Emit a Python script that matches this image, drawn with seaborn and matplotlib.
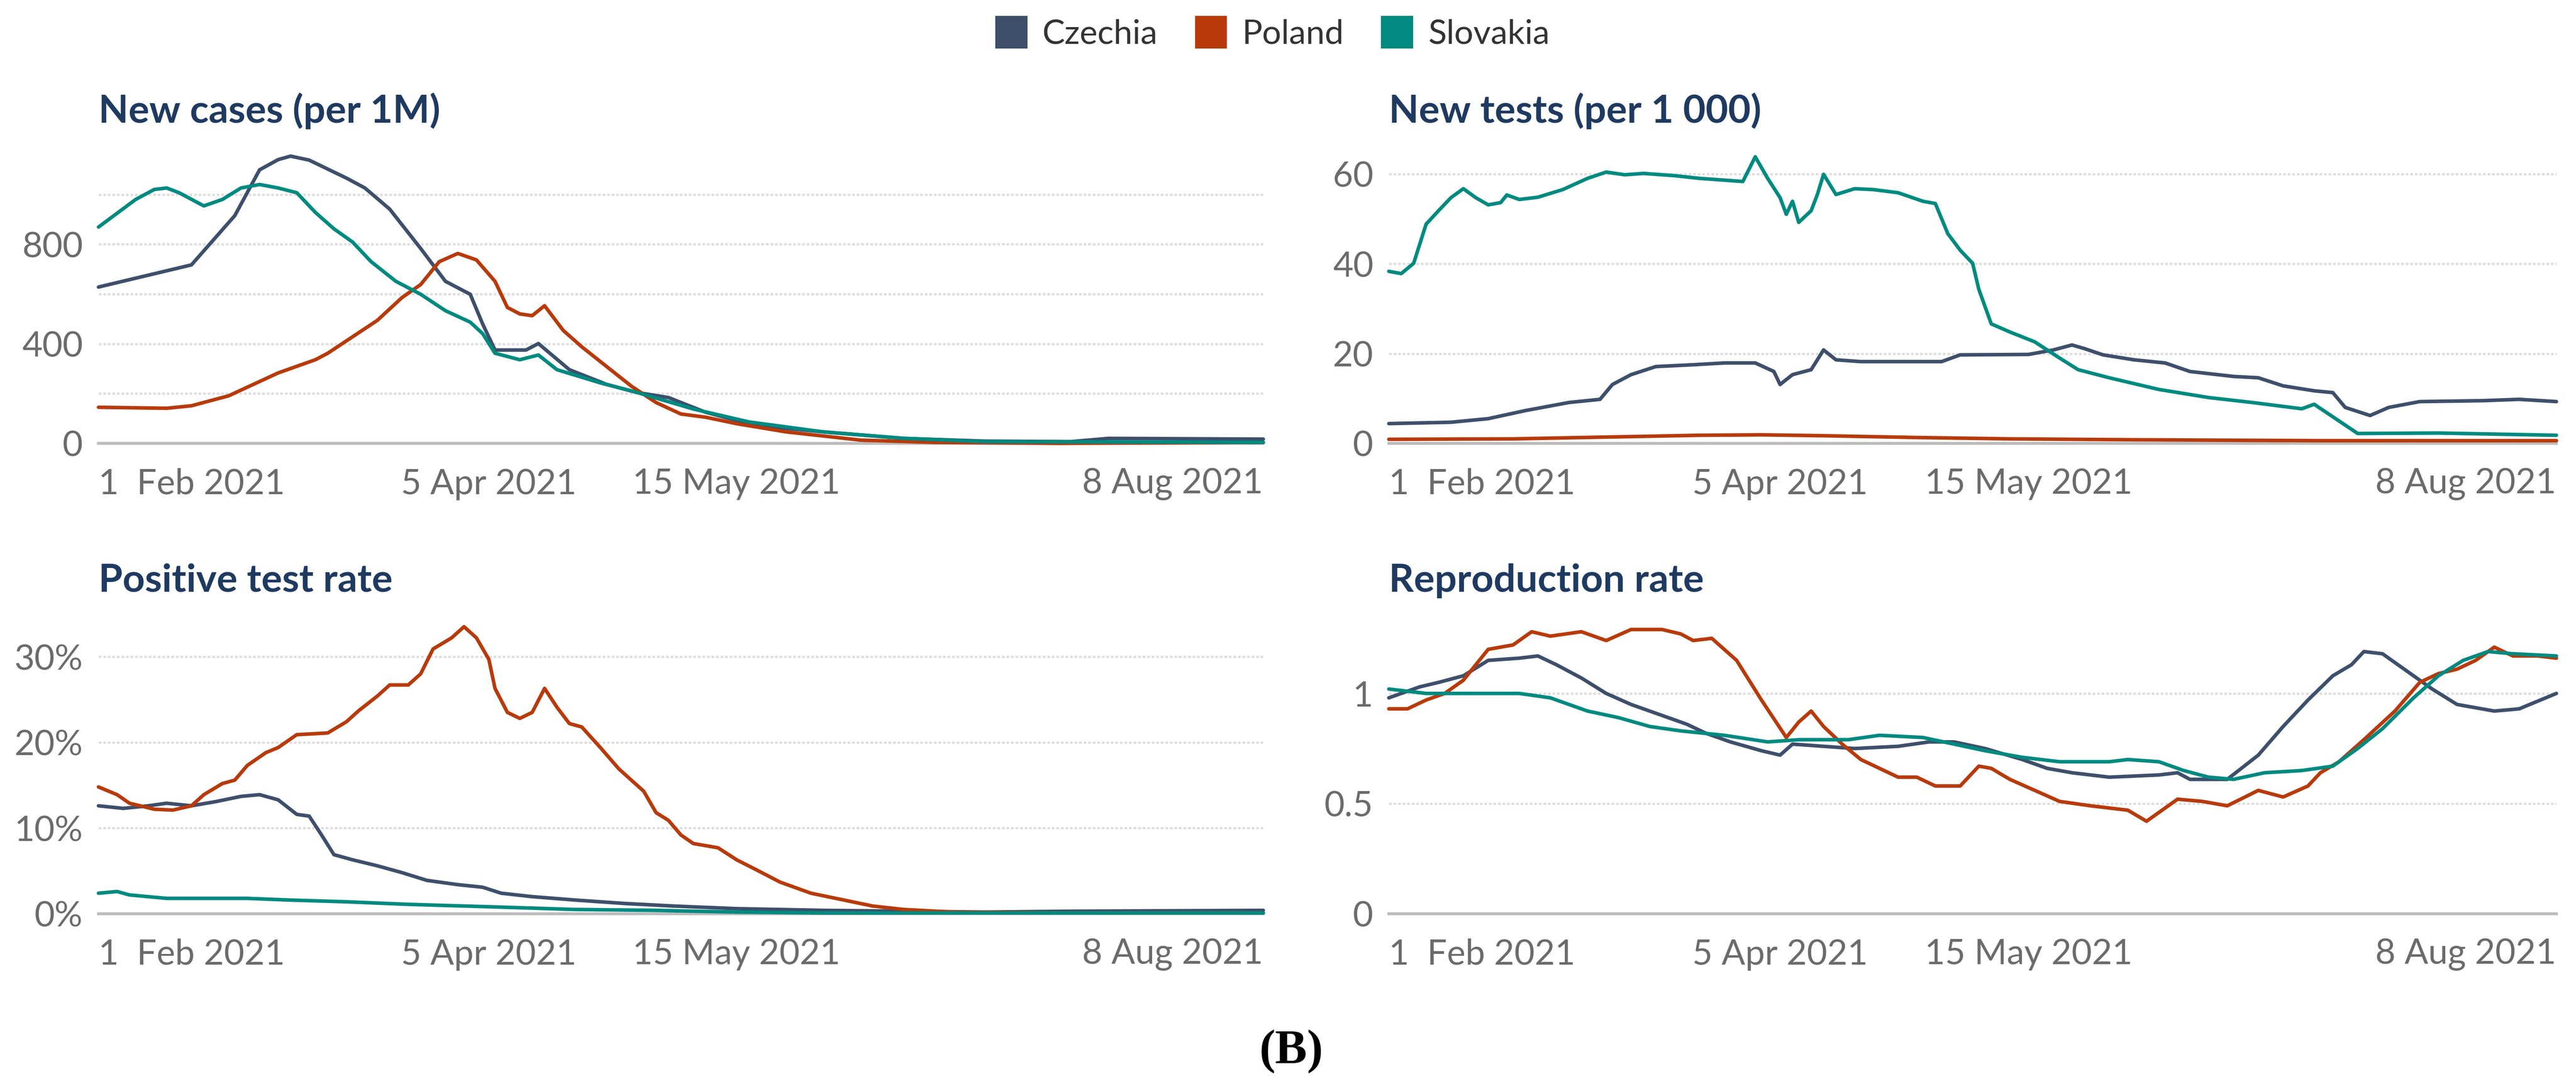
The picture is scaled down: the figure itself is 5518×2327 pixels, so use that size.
import numpy as np
import pandas as pd
import matplotlib
matplotlib.use("Agg")
import matplotlib.pyplot as plt
import matplotlib.dates as mdates
from matplotlib.patches import Patch
import seaborn as sns

# ---------------- data (days after 1 Feb 2021) ----------------
countries = ["Czechia", "Poland", "Slovakia"]
colors = {"Czechia": "#3d4f6b", "Poland": "#b83a0b", "Slovakia": "#008a80"}

cases_cz_days = [0, 15, 22, 26, 29, 31, 34, 40, 43, 47, 52, 56, 60, 62, 64, 69, 71, 76, 82, 87, 92, 98, 106, 117, 130, 143, 157, 163, 188]
cases_cz_vals = [628, 717, 915, 1099, 1140, 1154, 1138, 1066, 1026, 941, 783, 651, 599, 480, 375, 375, 401, 296, 237, 204, 184, 125, 72, 46, 20, 9, 7, 20, 17]
cases_pl_days = [0, 11, 15, 21, 25, 29, 35, 37, 41, 45, 49, 52, 55, 58, 61, 64, 66, 68, 70, 72, 75, 78, 82, 86, 90, 94, 98, 103, 111, 123, 135, 155, 188]
cases_pl_vals = [145, 141, 151, 191, 237, 283, 336, 362, 428, 494, 586, 638, 730, 763, 737, 651, 546, 520, 513, 553, 454, 388, 309, 230, 164, 118, 105, 79, 46, 13, 4, 0, 4]
cases_sk_days = [0, 6, 9, 11, 13, 17, 20, 23, 26, 29, 32, 35, 38, 41, 44, 48, 52, 56, 60, 62, 64, 68, 71, 74, 81, 87, 96, 105, 117, 130, 143, 188]
cases_sk_vals = [869, 980, 1020, 1026, 1007, 954, 980, 1026, 1040, 1026, 1007, 928, 862, 809, 730, 651, 599, 533, 487, 441, 362, 336, 355, 296, 243, 204, 138, 86, 46, 20, 7, 4]

tests_cz_days = [0, 10, 16, 22, 29, 34, 36, 39, 43, 49, 54, 59, 62, 63, 65, 68, 70, 72, 76, 89, 92, 103, 107, 110, 112, 115, 120, 125, 129, 136, 140, 144, 149, 152, 154, 158, 161, 166, 176, 182, 188]
tests_cz_vals = [4.4, 4.7, 5.5, 7.3, 9.1, 9.8, 13.1, 15.3, 17.1, 17.5, 17.9, 17.9, 16.0, 13.1, 15.3, 16.4, 20.8, 18.6, 18.2, 18.2, 19.7, 19.8, 20.8, 21.9, 21.1, 19.7, 18.6, 17.9, 16.0, 14.9, 14.6, 12.8, 11.7, 11.3, 8.0, 6.2, 8.0, 9.3, 9.5, 9.8, 9.3]
tests_pl_days = [0, 20, 35, 50, 60, 70, 85, 100, 120, 150, 188]
tests_pl_vals = [0.9, 1.0, 1.4, 1.8, 1.9, 1.7, 1.3, 1.0, 0.8, 0.6, 0.6]
tests_sk_days = [0, 2, 4, 6, 8, 10, 12, 14, 16, 18, 19, 21, 24, 28, 32, 35, 38, 41, 46, 50, 57, 59, 61, 63, 64, 65, 66, 68, 69, 70, 72, 75, 78, 82, 86, 88, 90, 92, 94, 95, 97, 100, 104, 108, 111, 116, 124, 132, 139, 147, 149, 156, 169, 188]
tests_sk_vals = [38.3, 37.8, 40.1, 48.8, 51.8, 54.7, 56.7, 54.7, 53.1, 53.6, 55.3, 54.3, 54.8, 56.5, 59.0, 60.4, 59.8, 60.1, 59.6, 59.0, 58.3, 63.8, 59.0, 54.7, 51.0, 53.9, 49.2, 51.8, 55.4, 59.9, 55.4, 56.7, 56.5, 55.8, 53.9, 53.4, 46.7, 43.0, 40.1, 34.3, 26.6, 24.8, 22.6, 19.0, 16.4, 14.6, 12.0, 10.2, 9.1, 7.7, 8.7, 2.2, 2.3, 1.8]

ptr_cz_days = [0, 4, 8, 11, 15, 19, 23, 26, 29, 32, 34, 36, 38, 41, 45, 49, 53, 58, 62, 65, 70, 77, 85, 93, 103, 117, 143, 157, 188]
ptr_cz_vals = [12.6, 12.3, 12.6, 12.9, 12.6, 13.1, 13.7, 13.9, 13.3, 11.6, 11.4, 9.2, 6.9, 6.3, 5.6, 4.8, 3.9, 3.4, 3.1, 2.4, 2.0, 1.6, 1.2, 0.9, 0.6, 0.4, 0.2, 0.3, 0.4]
ptr_pl_days = [0, 3, 5, 9, 12, 15, 17, 20, 22, 24, 27, 29, 32, 37, 40, 42, 45, 47, 50, 52, 54, 57, 59, 61, 63, 64, 66, 68, 70, 72, 74, 76, 78, 81, 84, 88, 90, 92, 94, 96, 100, 103, 106, 110, 115, 119, 125, 130, 138, 156, 188]
ptr_pl_vals = [14.8, 13.9, 12.9, 12.2, 12.1, 12.6, 13.9, 15.2, 15.6, 17.3, 18.8, 19.4, 20.9, 21.1, 22.4, 23.7, 25.4, 26.7, 26.7, 28.0, 30.9, 32.2, 33.5, 32.2, 29.7, 26.3, 23.5, 22.8, 23.5, 26.3, 24.1, 22.2, 21.8, 19.4, 16.9, 14.3, 11.8, 10.9, 9.2, 8.2, 7.7, 6.3, 5.2, 3.7, 2.4, 1.8, 0.9, 0.5, 0.2, 0.1, 0.1]
ptr_sk_days = [0, 3, 5, 11, 24, 31, 40, 50, 64, 77, 90, 103, 117, 188]
ptr_sk_vals = [2.4, 2.6, 2.2, 1.8, 1.8, 1.6, 1.4, 1.1, 0.8, 0.5, 0.4, 0.2, 0.1, 0.1]

r_cz_days = [0, 5, 8, 12, 16, 21, 24, 27, 31, 35, 39, 44, 48, 51, 55, 60, 63, 65, 70, 75, 82, 87, 91, 96, 102, 106, 110, 116, 124, 127, 129, 135, 140, 144, 148, 152, 155, 157, 160, 164, 168, 172, 178, 182, 188]
r_cz_vals = [0.98, 1.03, 1.05, 1.08, 1.15, 1.16, 1.17, 1.13, 1.07, 1.0, 0.95, 0.90, 0.86, 0.82, 0.78, 0.74, 0.72, 0.77, 0.76, 0.75, 0.76, 0.78, 0.78, 0.75, 0.70, 0.66, 0.64, 0.62, 0.63, 0.64, 0.61, 0.61, 0.72, 0.85, 0.97, 1.08, 1.13, 1.19, 1.18, 1.10, 1.02, 0.95, 0.92, 0.93, 1.0]
r_pl_days = [0, 3, 6, 9, 12, 14, 16, 20, 23, 26, 31, 35, 39, 44, 47, 49, 52, 56, 60, 64, 66, 68, 70, 73, 76, 82, 85, 88, 92, 95, 97, 100, 104, 108, 113, 119, 122, 127, 131, 135, 140, 144, 148, 150, 153, 157, 162, 166, 169, 172, 175, 178, 181, 185, 188]
r_pl_vals = [0.93, 0.93, 0.97, 1.0, 1.06, 1.13, 1.20, 1.22, 1.28, 1.26, 1.28, 1.24, 1.29, 1.29, 1.27, 1.24, 1.25, 1.15, 0.97, 0.80, 0.87, 0.92, 0.85, 0.77, 0.70, 0.62, 0.62, 0.58, 0.58, 0.67, 0.66, 0.61, 0.56, 0.51, 0.49, 0.47, 0.42, 0.52, 0.51, 0.49, 0.56, 0.53, 0.58, 0.64, 0.69, 0.79, 0.92, 1.05, 1.09, 1.11, 1.15, 1.21, 1.17, 1.17, 1.16]
r_sk_days = [0, 6, 21, 26, 32, 37, 42, 47, 54, 61, 66, 74, 79, 86, 91, 96, 102, 108, 116, 119, 124, 128, 132, 136, 141, 147, 152, 156, 160, 165, 169, 173, 177, 181, 188]
r_sk_vals = [1.02, 1.0, 1.0, 0.98, 0.92, 0.89, 0.85, 0.83, 0.81, 0.78, 0.79, 0.79, 0.81, 0.80, 0.77, 0.74, 0.71, 0.69, 0.69, 0.70, 0.69, 0.65, 0.62, 0.61, 0.64, 0.65, 0.67, 0.75, 0.84, 0.98, 1.08, 1.15, 1.19, 1.18, 1.17]

titles = ["New cases (per 1M)", "New tests (per 1 000)", "Positive test rate", "Reproduction rate"]
x_tick_dates = ["2021-02-01", "2021-04-05", "2021-05-15", "2021-08-08"]
x_tick_labels = ["1  Feb 2021", "5 Apr 2021", "15 May 2021", "8 Aug 2021"]

cases_yticks = [0, 200, 400, 600, 800, 1000]
cases_ylabels = ["0", "", "400", "", "800", ""]
tests_yticks = [0, 20, 40, 60]
tests_ylabels = ["0", "20", "40", "60"]
ptr_yticks = [0, 10, 20, 30]
ptr_ylabels = ["0%", "10%", "20%", "30%"]
r_yticks = [0, 0.5, 1]
r_ylabels = ["0", "0.5", "1"]

# ---------------- build frames ----------------
base = pd.Timestamp("2021-02-01")


def frame(series):
    parts = []
    for c, (d, v) in zip(countries, series):
        assert len(d) == len(v), c
        parts.append(pd.DataFrame({"date": base + pd.to_timedelta(d, unit="D"),
                                   "value": v, "country": c}))
    return pd.concat(parts, ignore_index=True)


panels = [
    frame([(cases_cz_days, cases_cz_vals), (cases_pl_days, cases_pl_vals), (cases_sk_days, cases_sk_vals)]),
    frame([(tests_cz_days, tests_cz_vals), (tests_pl_days, tests_pl_vals), (tests_sk_days, tests_sk_vals)]),
    frame([(ptr_cz_days, ptr_cz_vals), (ptr_pl_days, ptr_pl_vals), (ptr_sk_days, ptr_sk_vals)]),
    frame([(r_cz_days, r_cz_vals), (r_pl_days, r_pl_vals), (r_sk_days, r_sk_vals)]),
]
yticks = [cases_yticks, tests_yticks, ptr_yticks, r_yticks]
ylabels = [cases_ylabels, tests_ylabels, ptr_ylabels, r_ylabels]
ylims = [(0, 1200), (0, 66.5), (0, 34.2), (0, 1.33)]

# ---------------- style ----------------
sns.set_theme(style="white")
plt.rcParams["font.family"] = ["Lato", "DejaVu Sans"]

W, H = 5518, 2327
fig = plt.figure(figsize=(W / 100, H / 100), dpi=100)
fig.patch.set_facecolor("white")

# axes rectangles in pixel coords (left, right, top, bottom)
rects = [(211, 2706, 310, 950), (2975, 5476, 310, 950),
         (211, 2706, 1330, 1958), (2975, 5476, 1330, 1958)]
title_base = [263, 263, 1268, 1268]

tick_color = "#6b6b6b"
axis_color = "#bcbcbc"
grid_color = "#dedede"

for i, (l, r, t, b) in enumerate(rects):
    ax = fig.add_axes([l / W, 1 - b / H, (r - l) / W, (b - t) / H])
    sns.lineplot(data=panels[i], x="date", y="value", hue="country",
                 hue_order=countries, palette=colors, linewidth=5.5,
                 estimator=None, legend=False, ax=ax)
    for ln in ax.lines:
        ln.set_clip_on(False)
        ln.set_solid_joinstyle("round")
        ln.set_solid_capstyle("round")
    ax.set_xlim(base, pd.Timestamp("2021-08-08"))
    ax.set_ylim(*ylims[i])
    ax.set_xlabel("")
    ax.set_ylabel("")
    for s in ["top", "right", "left"]:
        ax.spines[s].set_visible(False)
    ax.spines["bottom"].set_color(axis_color)
    ax.spines["bottom"].set_linewidth(4.5)
    ax.spines["bottom"].set_zorder(1.5)

    ax.set_yticks(yticks[i])
    ax.set_yticklabels(ylabels[i])
    ax.grid(axis="y", color=grid_color, linestyle=(0, (1.2, 0.8)), linewidth=3.5)
    ax.grid(axis="x", visible=False)
    ax.set_axisbelow(True)
    ax.tick_params(axis="y", length=0, pad=24, labelsize=54, labelcolor=tick_color)

    ax.set_xticks(pd.to_datetime(x_tick_dates))
    ax.set_xticklabels(x_tick_labels)
    ax.tick_params(axis="x", length=20, width=4, color=axis_color, pad=18,
                   labelsize=54, labelcolor=tick_color, direction="out")
    labs = ax.get_xticklabels()
    labs[0].set_ha("left")
    labs[-1].set_ha("right")

    fig.text(l / W, 1 - title_base[i] / H, titles[i], fontsize=60,
             color="#1f3a60", fontweight="bold", va="baseline", ha="left")

# legend
handles = [Patch(facecolor=colors[c], edgecolor="none", label=c) for c in countries]
fig.legend(handles=handles, loc="center", bbox_to_anchor=(0.494, 1 - 70 / H),
           ncol=3, frameon=False, fontsize=52, handlelength=0.95, handleheight=1.1,
           handletextpad=0.45, columnspacing=1.1, labelcolor="#333333")

fig.text(2766 / W, 1 - 2278 / H, "(B)", fontsize=74, fontweight="bold",
         family=["Liberation Serif", "DejaVu Serif"], ha="center", va="baseline",
         color="black")

fig.savefig("out.png", dpi=100, facecolor="white")
